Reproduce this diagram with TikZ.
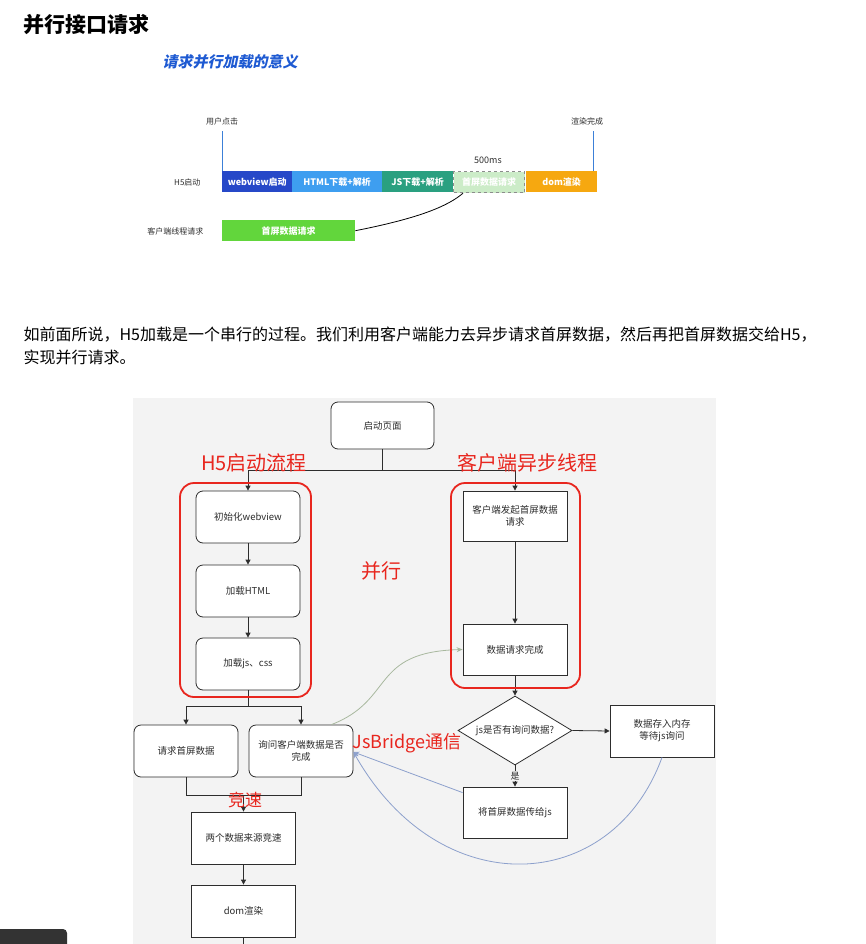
\documentclass[tikz,border=0pt]{standalone}
\usepackage{fontspec}
\usepackage{xcolor}
\newfontfamily\cjk{Noto Sans CJK SC}
\newfontfamily\cjkslant[FakeSlant=0.2]{Noto Sans CJK SC}
\usetikzlibrary{arrows.meta,positioning,calc,shapes.geometric,backgrounds}
\definecolor{barBlue}{RGB}{38,72,200}
\definecolor{barSky}{RGB}{62,158,240}
\definecolor{barTeal}{RGB}{42,160,128}
\definecolor{barPale}{RGB}{204,236,200}
\definecolor{barOrange}{RGB}{246,168,16}
\definecolor{barGreen}{RGB}{98,214,60}
\definecolor{tickBlue}{RGB}{60,128,216}
\definecolor{titleBlue}{RGB}{30,90,210}
\definecolor{markRed}{RGB}{232,38,30}
\definecolor{panelGray}{RGB}{243,243,243}
\definecolor{linkGreen}{RGB}{168,184,158}
\definecolor{linkBlue}{RGB}{140,160,204}
\definecolor{inkGray}{RGB}{45,45,45}

\begin{document}
\begin{tikzpicture}[x=1pt, y=-1pt,
  every node/.style={font=\cjk},
  bar/.style={anchor=north west, minimum height=21pt, inner sep=0pt,
              font=\cjk\bfseries\fontsize{9}{10}\selectfont, text=white},
  note/.style={font=\cjk\fontsize{8}{9}\selectfont, text=inkGray},
  tick/.style={tickBlue, line width=0.8pt},
  flowbox/.style={draw=inkGray, line width=0.8pt, fill=white, minimum width=104pt,
                  minimum height=52pt, align=center, text=inkGray,
                  font=\cjk\fontsize{9.5}{12}\selectfont},
  roundbox/.style={flowbox, rounded corners=7pt},
  redmark/.style={text=markRed, font=\cjk\fontsize{20}{22}\selectfont},
  redframe/.style={draw=markRed, line width=1.8pt, rounded corners=14pt},
  arr/.style={-{Triangle[length=5pt,width=5pt]}, inkGray, line width=0.8pt},
  link/.style={-{Stealth[length=6pt,width=5pt,open]}, line width=0.8pt}
]
\useasboundingbox (0,0) rectangle (866,944);

\node[anchor=west, font=\cjk\bfseries\fontsize{21}{23}\selectfont] (title) at (20,25) {并行接口请求};
\node[anchor=west, text=titleBlue, font=\cjkslant\bfseries\fontsize{15}{17}\selectfont] (subtitle) at (159,62) {请求并行加载的意义};

\node[bar, fill=barBlue, minimum width=70pt] (wv) at (222,171) {webview启动};
\node[bar, fill=barSky, minimum width=90pt] (html) at (292,171) {HTML下载+解析};
\node[bar, fill=barTeal, minimum width=71pt] (js) at (382,171) {JS下载+解析};
\node[bar, fill=barPale, draw=black!45, dashed, line width=1.2pt, minimum width=71pt, text=white] (firstreq) at (453,171) {首屏数据请求};
\node[bar, fill=barOrange, minimum width=71pt] (domBar) at (526,171) {dom渲染};
\node[bar, fill=barGreen, minimum width=133pt] (clientBar) at (222,220) {首屏数据请求};

\node[note] (click) at (222,121) {用户点击};
\node[note] (done) at (587,121) {渲染完成};
\node[font=\cjk\fontsize{9}{10}\selectfont, text=inkGray] (ms) at (488,160) {500ms};
\node[note, anchor=east] (h5) at (204,182) {H5启动};
\node[note, anchor=east] (clientThread) at (207,231) {客户端线程请求};

\draw[tick] ([yshift=-3pt]click.south) -- (wv.north west);
\draw[tick] ([yshift=-3pt]done.south -| domBar.north east) ++(-4pt,0) -- ([xshift=-4pt]domBar.north east);
\draw[black, line width=0.8pt] (clientBar.east) .. controls (420,218) and (448,206) .. ([xshift=10pt]firstreq.south west);

\node[anchor=west, font=\cjk\fontsize{16}{18}\selectfont] (para1) at (20,335) {如前面所说，H5加载是一个串行的过程。我们利用客户端能力去异步请求首屏数据，然后再把首屏数据交给H5，};
\node[anchor=west, font=\cjk\fontsize{16}{18}\selectfont] (para2) at (20,357) {实现并行请求。};

\fill[panelGray] (133,398) rectangle (716,944);
\fill[black!80, rounded corners=4pt] (-6,929) rectangle (67,952);

\node[roundbox, minimum width=103pt, minimum height=47pt] (start) at (382.5,425.5) {启动页面};
\node[roundbox] (init) at (248,517) {初始化webview};
\node[roundbox] (loadHtml) at (248,591) {加载HTML};
\node[roundbox] (loadJs) at (248,664) {加载js、css};
\node[flowbox, minimum height=50pt] (clientReq) at (515,516) {客户端发起首屏数据\\请求};
\node[flowbox, minimum height=51pt] (reqDone) at (515,649.5) {数据请求完成};
\node[roundbox] (askFirst) at (186,751) {请求首屏数据};
\node[roundbox] (askClient) at (301,751) {询问客户端数据是否\\完成};
\node[flowbox] (race) at (243.5,838) {两个数据来源竞速};
\node[flowbox] (dom) at (243.5,911) {dom渲染};
\node[draw=inkGray, line width=0.8pt, fill=white, diamond, aspect=1.65, inner sep=0pt,
      minimum width=114pt, minimum height=69pt, text=inkGray,
      font=\cjk\fontsize{9.5}{12}\selectfont] (decide) at (515,730.5) {js是否有询问数据?};
\node[flowbox] (store) at (662,731) {数据存入内存\\等待js询问};
\node[flowbox, minimum height=51pt] (pass) at (515,812.5) {将首屏数据传给js};

\draw[inkGray, line width=0.8pt] (start.south) -- ++(0,21) coordinate (split);
\draw[arr] (split) -| (init.north);
\draw[arr] (split) -| (clientReq.north);
\draw[arr] (init) -- (loadHtml);
\draw[arr] (loadHtml) -- (loadJs);
\draw[arr] (clientReq) -- (reqDone);
\draw[inkGray, line width=0.8pt] (loadJs.south) -- ++(0,16) coordinate (fork);
\draw[arr] (fork) -| (askFirst.north);
\draw[arr] (fork) -| (askClient.north);
\draw[inkGray, line width=0.8pt] (askFirst.south) -- ++(0,18) -| (askClient.south);
\coordinate (join) at ($(askFirst.south)!0.5!(askClient.south)+(0,18)$);
\draw[arr] (join) -- (race.north);
\draw[arr] (race) -- (dom);
\coordinate (tail) at (243.5,944);
\draw[inkGray, line width=0.8pt] (dom.south) -- (tail);
\draw[arr] (reqDone.south) -- (decide.north);
\draw[arr] (decide.east) -- (store.west);
\draw[arr] (decide.south) -- node[fill=panelGray, inner sep=1pt, text=inkGray, font=\cjk\fontsize{9}{10}\selectfont] {是} (pass.north);

\draw[link, linkGreen] ([xshift=-22pt]askClient.north east) .. controls (395,700) and (370,652) .. (reqDone.west);
\draw[link, linkBlue] ([yshift=-6pt]pass.north west) -- ([yshift=-1pt]askClient.east);
\draw[link, linkBlue] (store.south) .. controls (612,895) and (440,905) .. ([yshift=-1pt]askClient.east);

\draw[redframe] (180,483) rectangle (311,697);
\draw[redframe] (451,483) rectangle (580,688);
\node[redmark] (h5Flow) at (254,463) {H5启动流程};
\node[redmark] (clientFlow) at (527,463) {客户端异步线程};
\node[redmark] (parallel) at (381,571) {并行};
\node[redmark, font=\cjk\fontsize{17}{19}\selectfont] (raceMark) at (245,800) {竞速};
\node[redmark, font=\cjk\fontsize{18}{20}\selectfont] (bridge) at (407,743) {JsBridge通信};
\end{tikzpicture}
\end{document}
